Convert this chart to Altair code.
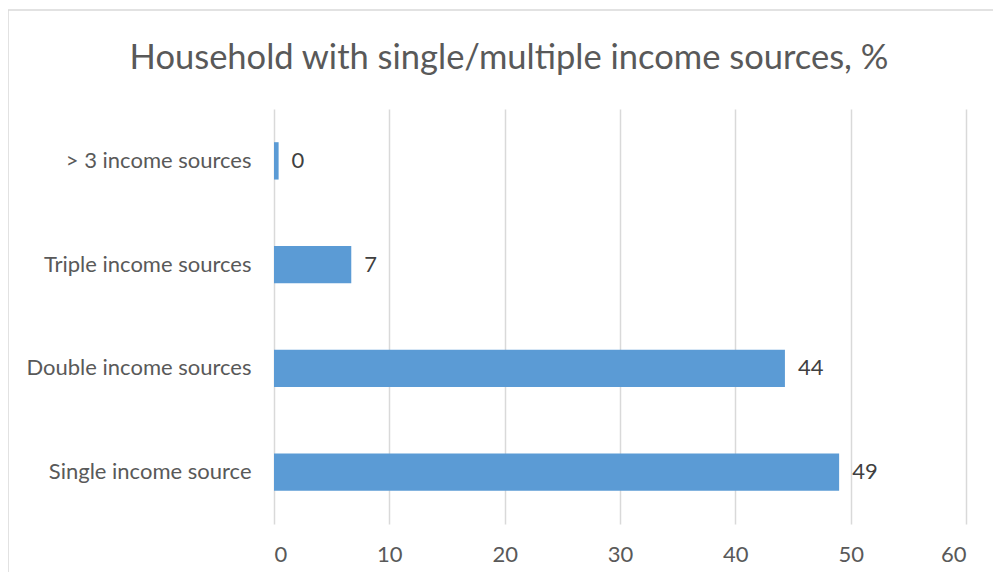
import altair as alt
import pandas as pd

categories = ["> 3 income sources", "Triple income sources", "Double income sources", "Single income source"]
values = [0.4, 6.7, 44.3, 49.0]

df = pd.DataFrame({"category": categories, "value": values})

FONT = "Lato"
GRAY = "#595959"

base = alt.Chart(df)

bars = base.mark_bar(color="#5b9bd5").encode(
    y=alt.Y("category:N", sort=categories, title=None,
            scale=alt.Scale(paddingInner=0.64, paddingOuter=0.32),
            axis=alt.Axis(domain=False, ticks=False, labelPadding=23, labelFontSize=22,
                          labelColor=GRAY, labelFont=FONT, grid=False, labelLimit=400)),
    x=alt.X("value:Q", title=None,
            scale=alt.Scale(domain=[0, 60], nice=False),
            axis=alt.Axis(values=[0, 10, 20, 30, 40, 50, 60], domain=False, ticks=False,
                          labelPadding=20, labelFontSize=22, labelColor=GRAY, labelFont=FONT,
                          grid=True, gridColor="#d9d9d9", gridWidth=1.5)),
)

labels = base.mark_text(align="left", baseline="middle", dx=13, fontSize=22,
                        color="#404040", font=FONT).encode(
    y=alt.Y("category:N", sort=categories),
    x=alt.X("value:Q"),
    text=alt.Text("value:Q", format=".0f"),
)

frame = alt.Chart(pd.DataFrame({"a": [0]})).mark_rect(
    fill=None, stroke="#d9d9d9", strokeWidth=1.5
).encode(
    x=alt.value(-266), x2=alt.value(730), y=alt.value(-99), y2=alt.value(470)
)

chart = alt.layer(frame, bars, labels).properties(
    width=692, height=415,
    padding={"left": 266, "top": 101, "right": 27, "bottom": 48},
    autosize=alt.AutoSizeParams(type="none"),
    title=alt.TitleParams("Household with single/multiple income sources, %",
                          fontSize=34.5, font=FONT, fontWeight="normal", color=GRAY,
                          anchor="middle", dx=-111, offset=-67),
).configure_view(stroke=None)

chart.save("out.html", embed_options={"renderer": "svg", "actions": False})
